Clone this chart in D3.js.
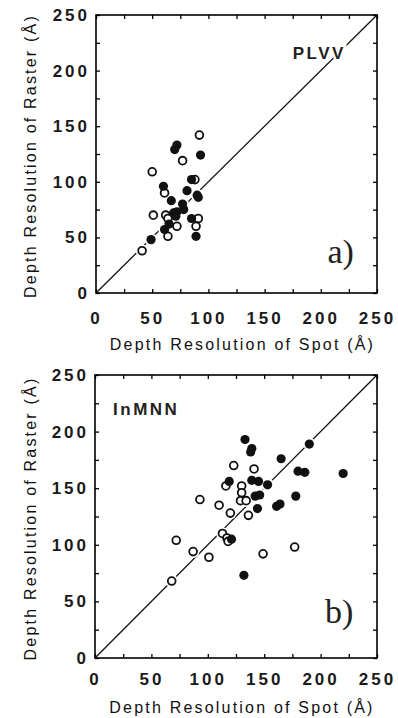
<!DOCTYPE html>
<html>
<head>
<meta charset="utf-8">
<script src="https://cdn.jsdelivr.net/npm/d3@7"></script>
<style>
  body { margin: 0; background: #fff; }
  svg { display: block; }
  .tick line { stroke: #000; stroke-width: 1.3; }
  .ticklab text { font-family: "Liberation Sans", Arial, sans-serif; font-size: 17px; font-weight: bold; letter-spacing: 3px; fill: #1a1a1a; }
  .title { font-family: "Liberation Sans", Arial, sans-serif; font-size: 16px; letter-spacing: 2.2px; fill: #111; }
</style>
</head>
<body>
<svg id="chart" width="398" height="718"></svg>
<script>
// axis values
var majorTicks = [0, 50, 100, 150, 200, 250];
var minorTicks = [0, 25, 50, 75, 100, 125, 150, 175, 200, 225, 250];
var xTitle = "Depth Resolution of Spot (Å)";
var yTitle = "Depth Resolution of Raster (Å)";

// a) PLVV  [spot, raster]
var plvvFilled = [[49,48],[61,57],[65,62],[69,72],[72,73],[71,69],[78,75],[77,80],[67,83],[81,92],
                  [90,88],[91,86],[60,96],[85,102],[72,133],[70,129],[93,124],[85,67],[89,51]];
var plvvOpen = [[41,38],[50,109],[51,70],[61,90],[62,70],[64,67],[64,51],[72,60],[77,119],
                [92,142],[88,102],[91,67],[89,60]];

// b) InMNN  [spot, raster]
var inmnnFilled = [[133,193],[139,185],[138,182],[165,176],[190,189],[180,165],[186,164],[220,163],
                   [119,156],[139,157],[145,156],[153,153],[142,143],[146,144],[144,132],[161,134],
                   [164,136],[178,143],[121,105],[132,73]];
var inmnnOpen = [[68,68],[72,104],[87,94],[93,140],[101,89],[110,135],[113,110],[117,106],[118,103],
                 [116,152],[120,128],[123,170],[130,152],[130,146],[129,139],[134,139],[136,126],
                 [141,167],[149,92],[177,98]];

var panels = [
  {filled: plvvFilled, open: plvvOpen, name: "PLVV", nameAt: [175, 210], tag: "a)", tagAt: [206, 27],
   left: 96, right: 377, top: 15, bottom: 293, labPad: 19, xTitleY: 350},
  {filled: inmnnFilled, open: inmnnOpen, name: "InMNN", nameAt: [16, 215], tag: "b)", tagAt: [204, 31],
   left: 95, right: 377, top: 375, bottom: 658, labPad: 15, xTitleY: 713}
];

var svg = d3.select("#chart");

panels.forEach(function(p) {
  var x = d3.scaleLinear().domain([0, 250]).range([p.left, p.right]);
  var y = d3.scaleLinear().domain([0, 250]).range([p.bottom, p.top]);
  var g = svg.append("g");

  // inward ticks on all four sides
  var sides = [
    [d3.axisBottom(x), "translate(0," + p.bottom + ")"],
    [d3.axisTop(x), "translate(0," + p.top + ")"],
    [d3.axisLeft(y), "translate(" + p.left + ",0)"],
    [d3.axisRight(y), "translate(" + p.right + ",0)"]
  ];
  sides.forEach(function(s) {
    var ax = g.append("g").attr("transform", s[1])
      .call(s[0].tickValues(minorTicks).tickSizeInner(-4).tickSizeOuter(0).tickFormat(""));
    ax.select(".domain").remove();
  });

  // tick labels
  var xl = g.append("g").attr("class", "ticklab").attr("transform", "translate(0," + p.bottom + ")")
    .call(d3.axisBottom(x).tickValues(majorTicks).tickSize(0).tickPadding(p.labPad));
  xl.select(".domain").remove();
  var yl = g.append("g").attr("class", "ticklab").attr("transform", "translate(" + p.left + ",0)")
    .call(d3.axisLeft(y).tickValues(majorTicks).tickSize(0).tickPadding(6));
  yl.select(".domain").remove();
  g.selectAll(".ticklab").attr("font-family", null).attr("font-size", null);

  // frame
  g.append("rect")
    .attr("x", p.left).attr("y", p.top)
    .attr("width", p.right - p.left).attr("height", p.bottom - p.top)
    .attr("fill", "none").attr("stroke", "#000").attr("stroke-width", 1.6);

  // 1:1 line
  g.append("line")
    .attr("x1", x(0)).attr("y1", y(0)).attr("x2", x(250)).attr("y2", y(250))
    .attr("stroke", "#111").attr("stroke-width", 1.3);

  var all = p.open.concat(p.filled);
  // white halos break the line around the points
  g.append("g").selectAll("circle").data(all).join("circle")
    .attr("cx", function(d) { return x(d[0]); })
    .attr("cy", function(d) { return y(d[1]); })
    .attr("r", 6.3).attr("fill", "#fff");

  g.append("g").selectAll("circle").data(p.open).join("circle")
    .attr("cx", function(d) { return x(d[0]); })
    .attr("cy", function(d) { return y(d[1]); })
    .attr("r", 3.9).attr("fill", "#fff").attr("stroke", "#111").attr("stroke-width", 1.8);

  g.append("g").selectAll("circle").data(p.filled).join("circle")
    .attr("cx", function(d) { return x(d[0]); })
    .attr("cy", function(d) { return y(d[1]); })
    .attr("r", 4.6).attr("fill", "#111");

  // panel name and letter
  g.append("text")
    .attr("x", x(p.nameAt[0])).attr("y", y(p.nameAt[1]))
    .attr("font-family", "Liberation Sans, Arial, sans-serif").attr("font-size", 17)
    .attr("font-weight", "bold")
    .attr("letter-spacing", "2.5px").attr("fill", "#222")
    .attr("stroke", "#fff").attr("stroke-width", 5).attr("paint-order", "stroke")
    .text(p.name);
  g.append("text")
    .attr("x", x(p.tagAt[0])).attr("y", y(p.tagAt[1]))
    .attr("font-family", "Liberation Serif, Times New Roman, serif").attr("font-size", 34)
    .attr("fill", "#222")
    .text(p.tag);

  // axis titles
  g.append("text").attr("class", "title")
    .attr("x", (p.left + p.right) / 2 + 6).attr("y", p.xTitleY)
    .attr("text-anchor", "middle")
    .text(xTitle);
  g.append("text").attr("class", "title")
    .attr("transform", "translate(36," + ((p.top + p.bottom) / 2 + 2) + ") rotate(-90)")
    .attr("text-anchor", "middle")
    .text(yTitle);
});
</script>
</body>
</html>
